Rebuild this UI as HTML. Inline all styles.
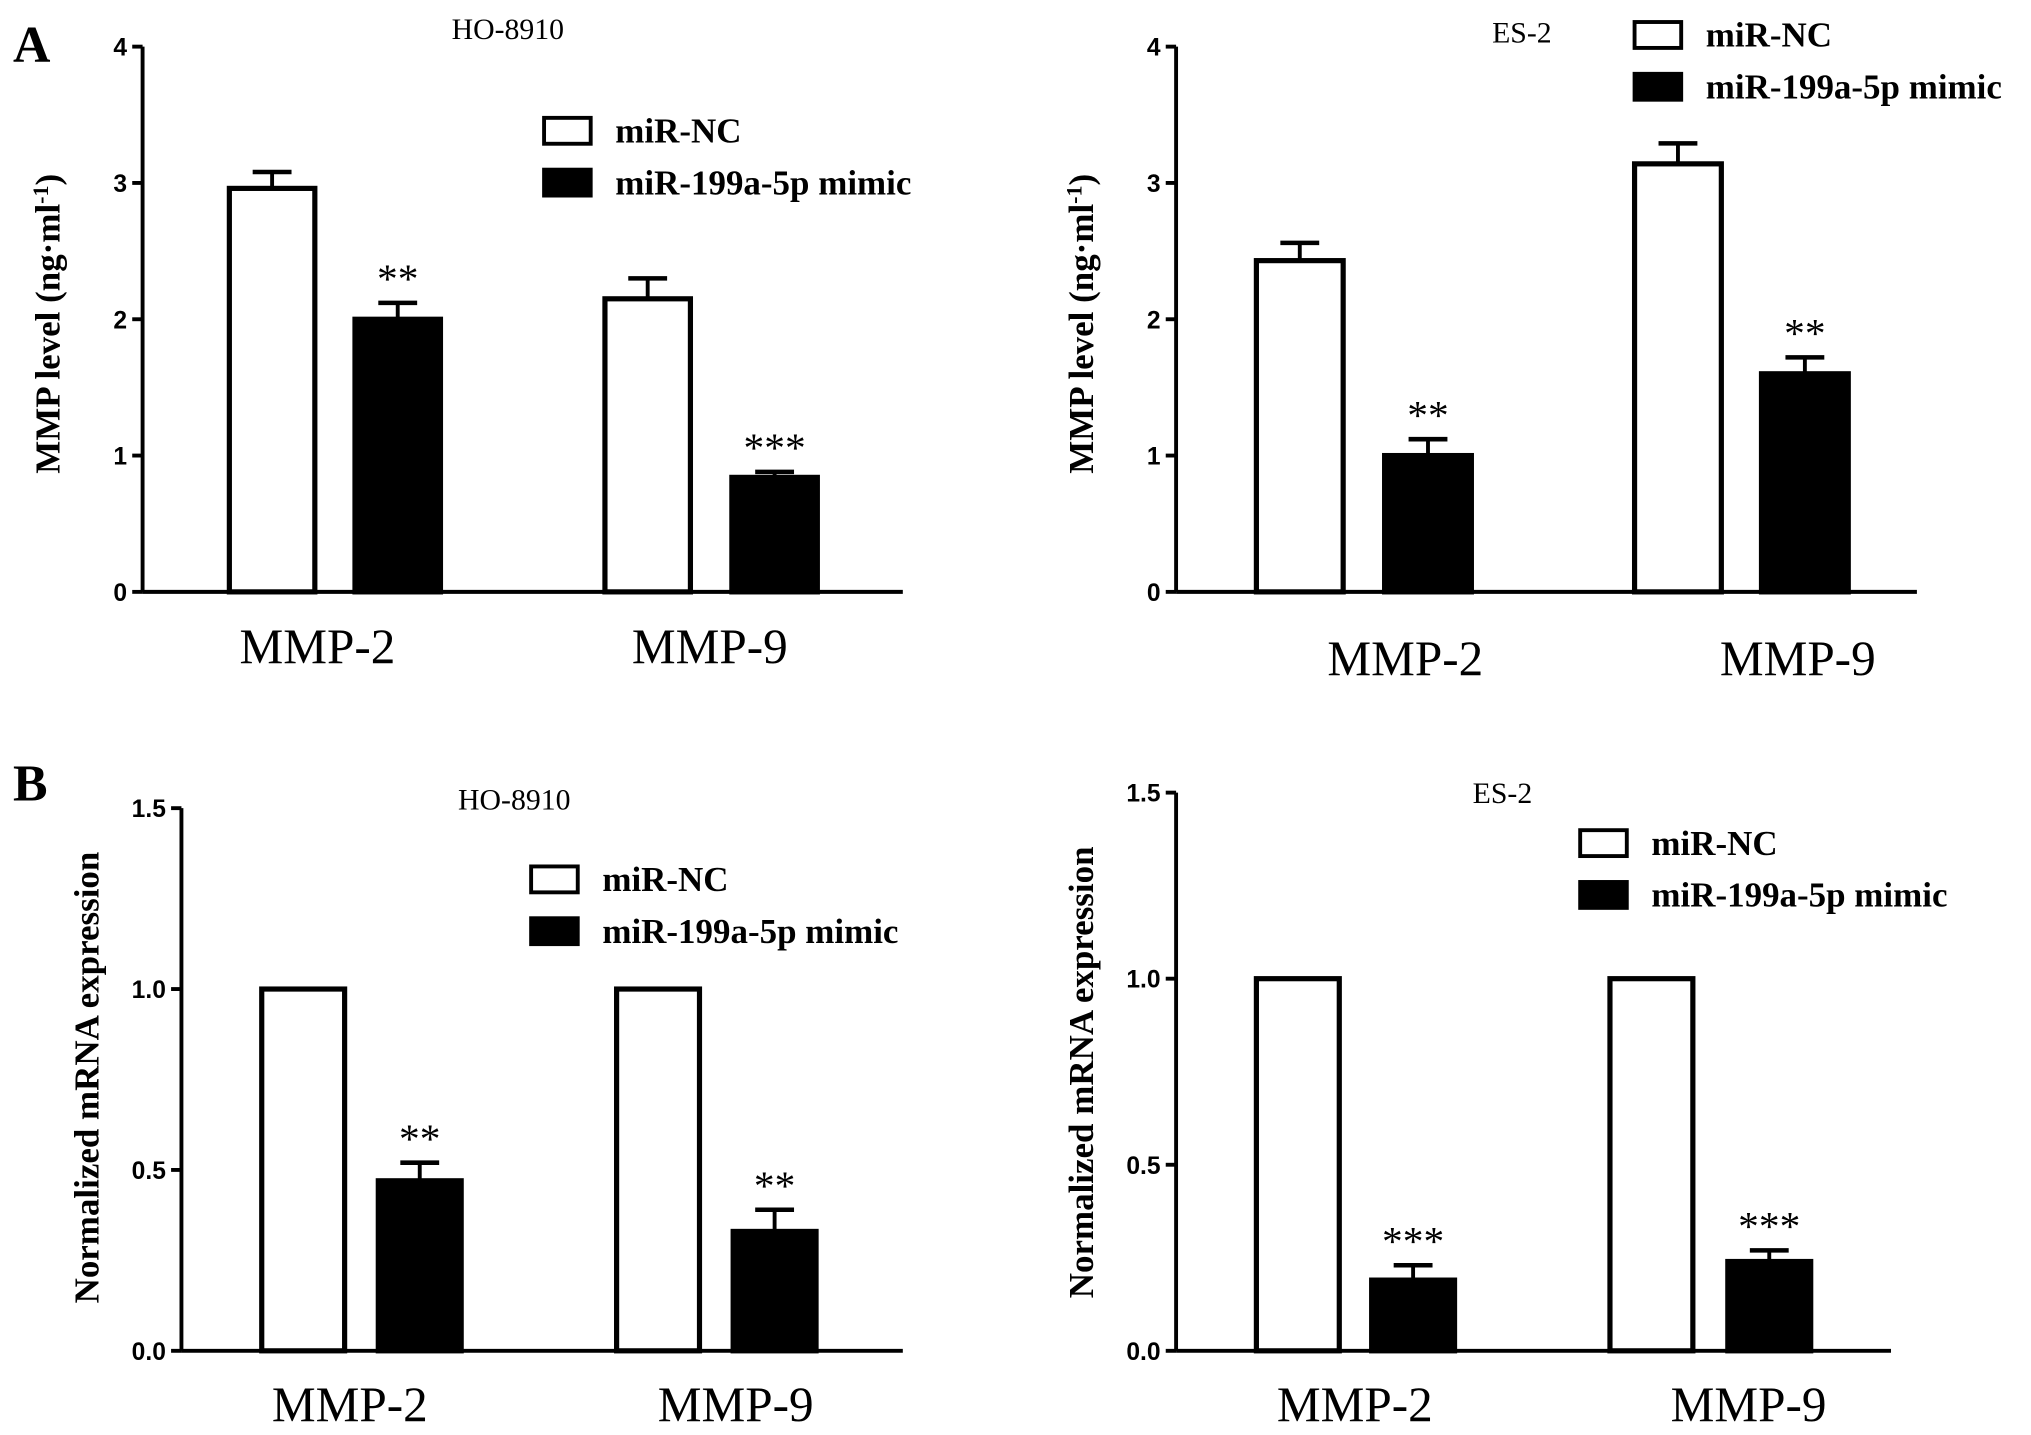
<!DOCTYPE html>
<html><head><meta charset="utf-8"><style>html,body{margin:0;padding:0;background:#fff;}svg{display:block}</style></head>
<body>
<svg id="fig" width="2031" height="1435" viewBox="0 0 1568 1108" xmlns="http://www.w3.org/2000/svg" font-family="Liberation Serif, serif">
<text x="10" y="48" font-size="40" font-weight="bold">A</text>
<text x="10" y="618" font-size="40" font-weight="bold">B</text>
</svg>
<script>
const categories = ["MMP-2","MMP-9"];
const aLeftNC = [2.96, 2.15], aLeftNCErr = [0.12, 0.15];
const aLeftMimic = [2.0, 0.84], aLeftMimicErr = [0.12, 0.04];
const aLeftStars = ["**","***"];
const aRightNC = [2.43, 3.14], aRightNCErr = [0.13, 0.15];
const aRightMimic = [1.0, 1.6], aRightMimicErr = [0.12, 0.12];
const aRightStars = ["**","**"];
const bLeftNC = [1.0, 1.0], bLeftNCErr = [0, 0];
const bLeftMimic = [0.47, 0.33], bLeftMimicErr = [0.05, 0.06];
const bLeftStars = ["**","**"];
const bRightNC = [1.0, 1.0], bRightNCErr = [0, 0];
const bRightMimic = [0.19, 0.24], bRightMimicErr = [0.04, 0.03];
const bRightStars = ["***","***"];
const aTicks = ["0","1","2","3","4"];
const bTicks = ["0.0","0.5","1.0","1.5"];

const svg = document.getElementById('fig');
const NS = 'http://www.w3.org/2000/svg';
function mk(tag, attrs, parent){const e=document.createElementNS(NS,tag);for(const k in attrs)e.setAttribute(k,attrs[k]);(parent||svg).appendChild(e);return e;}

function panel(p){
  const g = mk('g',{});
  
  
  const ys = v => p.y0 - (v/p.max)*(p.y0-p.ytop);
  const ax = mk('line',{x1:p.ax,y1:p.ytop,x2:p.ax,y2:p.y0,stroke:'#000','stroke-width':3},g);
  
  
  const xa = mk('line',{x1:p.ax,y1:p.y0,x2:p.xend,y2:p.y0,stroke:'#000','stroke-width':3},g);
  
  
  p.ticks.forEach(t=>{
    const y=ys(parseFloat(t));
    mk('line',{x1:p.ax-8,y1:y,x2:p.ax,y2:y,stroke:'#000','stroke-width':3},g);
    const tx=mk('text',{x:p.ax-12,y:y+7,'text-anchor':'end','font-size':19,'font-weight':'bold','font-family':'Liberation Sans, sans-serif'},g);
    tx.textContent=t;
    
    
  });
  const yt=mk('text',{transform:`translate(${p.ax-64},${p.ylabY}) rotate(-90)`,'text-anchor':'middle','font-size':p.ylabSize,'font-weight':'bold'},g);
  yt.innerHTML=p.ylabel;
  
  
  const tt=mk('text',{x:p.titleX,y:p.titleY,'text-anchor':'middle','font-size':23},g);
  tt.textContent=p.title;
  
  
  categories.forEach((c,i)=>{
    const bars=[[p.nc,p.ncErr,'#fff',p.ncX[i]],[p.mi,p.miErr,'#000',p.miX[i]]];
    bars.forEach((b,j)=>{
      const v=b[0][i], e=b[1][i], x=b[3];
      if(e>0){
        const l=mk('line',{x1:x+p.bw/2,y1:ys(v),x2:x+p.bw/2,y2:ys(v+e),stroke:'#000','stroke-width':3},g);
        
        
        const cap=mk('line',{x1:x+p.bw/2-15,y1:ys(v+e),x2:x+p.bw/2+15,y2:ys(v+e),stroke:'#000','stroke-width':3.5},g);
        
        
      }
      const r=mk('rect',{x:x,y:ys(v),width:p.bw,height:p.y0-ys(v),fill:b[2],stroke:'#000','stroke-width':4},g);
      
      
    });
    const s=mk('text',{x:p.miX[i]+p.bw/2,y:ys(p.mi[i]+p.miErr[i])-8,'text-anchor':'middle','font-size':32},g);
    s.textContent=p.stars[i];
    
    
    const cl=mk('text',{x:p.catX[i],y:p.catY,'text-anchor':'middle','font-size':38},g);
    cl.textContent=c;
    
    
  });
  [['miR-NC','#fff'],['miR-199a-5p mimic','#000']].forEach((l,k)=>{
    const y=p.legY+k*40;
    const r=mk('rect',{x:p.legX,y:y-10,width:36,height:20,fill:l[1],stroke:'#000','stroke-width':3},g);
    
    
    const t=mk('text',{x:p.legX+55,y:y+9,'font-size':27,'font-weight':'bold'},g);
    t.textContent=l[0];
    
    
  });
}
const mmpLabel='MMP level (ng·ml<tspan dy="-9" font-size="17">-1</tspan><tspan dy="9">)</tspan>';
panel({name:'chart-a-ho8910',ax:110,ytop:36,y0:457,max:4,xend:697,ticks:aTicks,ylabel:mmpLabel,ylabY:250,ylabSize:27,title:'HO-8910',titleX:392,titleY:30,
  nc:aLeftNC,ncErr:aLeftNCErr,mi:aLeftMimic,miErr:aLeftMimicErr,stars:aLeftStars,ncX:[177,467],miX:[274,565],bw:66,catX:[245,548],catY:512,legX:420,legY:101});
panel({name:'chart-a-es2',ax:908,ytop:36,y0:457,max:4,xend:1480,ticks:aTicks,ylabel:mmpLabel,ylabY:250,ylabSize:27,title:'ES-2',titleX:1175,titleY:33,
  nc:aRightNC,ncErr:aRightNCErr,mi:aRightMimic,miErr:aRightMimicErr,stars:aRightStars,ncX:[970,1262],miX:[1069,1360],bw:67,catX:[1085,1388],catY:521,legX:1262,legY:27});
panel({name:'chart-b-ho8910',ax:140,ytop:624,y0:1043,max:1.5,xend:697,ticks:bTicks,ylabel:'Normalized mRNA expression',ylabY:832,ylabSize:27,title:'HO-8910',titleX:397,titleY:625,
  nc:bLeftNC,ncErr:bLeftNCErr,mi:bLeftMimic,miErr:bLeftMimicErr,stars:bLeftStars,ncX:[202,476],miX:[292,566],bw:64,catX:[270,568],catY:1097,legX:410,legY:679});
panel({name:'chart-b-es2',ax:908,ytop:612,y0:1043,max:1.5,xend:1460,ticks:bTicks,ylabel:'Normalized mRNA expression',ylabY:828,ylabSize:27,title:'ES-2',titleX:1160,titleY:620,
  nc:bRightNC,ncErr:bRightNCErr,mi:bRightMimic,miErr:bRightMimicErr,stars:bRightStars,ncX:[970,1243],miX:[1059,1334],bw:64,catX:[1046,1350],catY:1097,legX:1220,legY:651});
</script>
</body></html>
